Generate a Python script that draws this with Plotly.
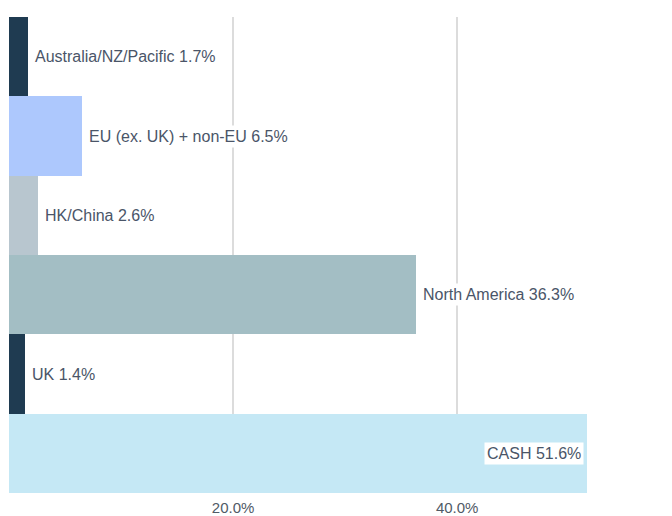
import plotly.graph_objects as go

categories = ["Australia/NZ/Pacific", "EU (ex. UK) + non-EU", "HK/China", "North America", "UK", "CASH"]
values = [1.7, 6.5, 2.6, 36.3, 1.4, 51.6]
colors = ["#1f3b51", "#adc8fd", "#b8c6cf", "#a3bec4", "#1f3b51", "#c5e8f5"]
tick_vals = [20, 40]
tick_text = ["20.0%", "40.0%"]
inside_threshold = 45

fig = go.Figure(go.Bar(
    y=categories, x=values, orientation="h",
    marker=dict(color=colors, line=dict(width=0)),
    hoverinfo="skip",
))

for c, v in zip(categories, values):
    inside = v > inside_threshold
    fig.add_annotation(
        x=v, y=c, xref="x", yref="y",
        text=f"{c} {v:.1f}%",
        showarrow=False,
        xanchor="right" if inside else "left",
        xshift=-3 if inside else 4,
        bgcolor="white", borderpad=2,
        font=dict(family="Liberation Sans, Arial, sans-serif", size=16, color="#4a5568"),
    )

fig.update_layout(
    width=664, height=508,
    margin=dict(l=1, r=12, t=9, b=23),
    plot_bgcolor="white", paper_bgcolor="white",
    bargap=0, showlegend=False,
    font=dict(family="Liberation Sans, Arial, sans-serif", size=15, color="#505a66"),
    xaxis=dict(range=[0, 58.1], tickvals=tick_vals, ticktext=tick_text,
               showgrid=True, gridcolor="#dcdcdc", gridwidth=2,
               zeroline=False, showline=False, ticks="", fixedrange=True,
               automargin=False, ticklabelstandoff=4),
    yaxis=dict(autorange="reversed", showticklabels=False, showgrid=False,
               zeroline=False, showline=False, ticks="", automargin=False),
)

fig.write_html("out.html")
